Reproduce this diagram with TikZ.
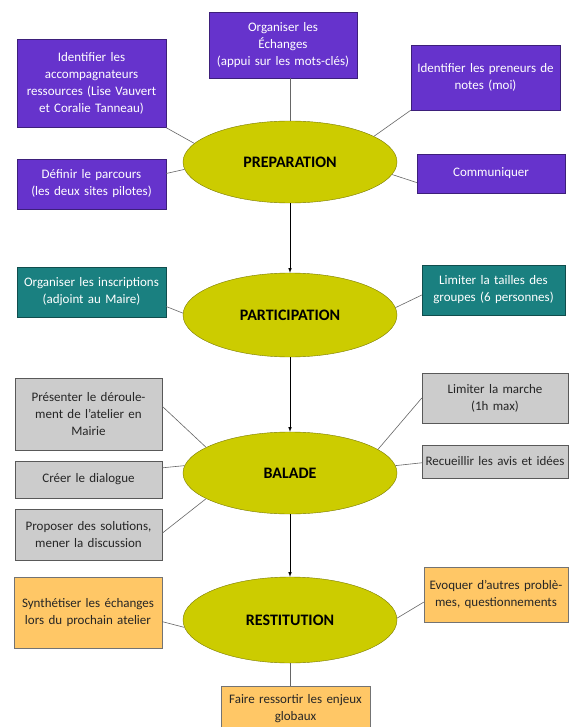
\documentclass[tikz,border=0pt]{standalone}
\usepackage{fontspec}
\setmainfont{Carlito}
\usepackage{tikz}
\usetikzlibrary{shapes}
\definecolor{prepcol}{HTML}{6633CC}
\definecolor{partcol}{HTML}{1A8080}
\definecolor{balcol}{HTML}{CCCCCC}
\definecolor{restcol}{HTML}{FFC766}
\definecolor{phasecol}{HTML}{CCCC00}
\tikzset{my box/.style={
  draw=black!65,
  rectangle,
  align=center,
  inner sep=1pt,
  font=\fontsize{13}{17}\selectfont
  }
}
\tikzset{prep box/.style={my box, fill=prepcol, draw=prepcol!60!black, text=white}}
\tikzset{part box/.style={my box, fill=partcol, draw=partcol!60!black, text=white}}
\tikzset{bal box/.style={my box, fill=balcol, text=black!85}}
\tikzset{rest box/.style={my box, fill=restcol, draw=black!55, text=black!85}}
\tikzset{my phase/.style={
  ellipse,
  draw=phasecol!60!black,
  fill=phasecol,
  minimum width=214pt,
  minimum height=82pt,
  inner sep=0pt,
  font=\fontsize{16}{18}\selectfont\bfseries
  }
}
\tikzset{my link/.style={black!60, line width=0.6pt}}
\tikzset{my arrow/.style={black, line width=0.6pt, -latex}}

\begin{document}
\begin{tikzpicture}[x=1pt,y=-1pt]
    \useasboundingbox[fill=white] (0,0) rectangle (568,727);

    % phases
    \node[my phase] at (290,162) (prep) {PREPARATION};
    \node[my phase, minimum height=84pt] at (290,315) (part) {PARTICIPATION};
    \node[my phase] at (290,473) (bal) {BALADE};
    \node[my phase, minimum height=86pt] at (290,620) (rest) {RESTITUTION};

    % preparation
    \node[prep box, text width=146pt, minimum height=66pt] at (283,45) (echanges) {Organiser les\\Échanges\\(appui sur les mots-clés)};
    \node[prep box, text width=147pt, minimum height=88pt] at (91.5,83.5) (accomp) {Identifier les\\accompagnateurs\\ressources (Lise Vauvert\\et Coralie Tanneau)};
    \node[prep box, text width=147pt, minimum height=65pt] at (485.5,77.5) (preneurs) {Identifier les preneurs de\\notes (moi)};
    \node[prep box, text width=147pt, minimum height=50pt] at (91.5,184) (parcours) {Définir le parcours\\(les deux sites pilotes)};
    \node[prep box, text width=146pt, minimum height=39pt] at (491,173.5) (communiquer) {Communiquer};

    % participation
    \node[part box, text width=147pt, minimum height=50pt] at (91.5,292) (inscriptions) {Organiser les inscriptions\\(adjoint au Maire)};
    \node[part box, text width=141pt, minimum height=50pt] at (493.5,290) (groupes) {Limiter la tailles des\\groupes (6 personnes)};

    % balade
    \node[bal box, text width=145pt, minimum height=72pt] at (88.5,414) (deroulement) {Présenter le déroule-\\ment de l'atelier en\\Mairie};
    \node[bal box, text width=145pt, minimum height=37pt] at (88.5,479.5) (dialogue) {Créer le dialogue};
    \node[bal box, text width=145pt, minimum height=51pt] at (88.5,534.5) (solutions) {Proposer des solutions,\\mener la discussion};
    \node[bal box, text width=144pt, minimum height=50pt] at (495,398) (marche) {Limiter la marche\\(1h max)};
    \node[bal box, text width=144pt, minimum height=33pt] at (495,461.5) (avis) {Recueillir les avis et idées};

    % restitution
    \node[rest box, text width=146pt, minimum height=71pt] at (88,612.5) (synth) {Synthétiser les échanges\\lors du prochain atelier};
    \node[rest box, text width=142pt, minimum height=55pt] at (496,594.5) (evoquer) {Evoquer d'autres problè-\\mes, questionnements};
    \node[rest box, text width=147pt, minimum height=44pt, anchor=north] at (295.5,686) (enjeux) {Faire ressortir les enjeux\\globaux};

    % links to the phases
    \draw[my link] (accomp.south east) -- (prep.169);
    \draw[my link] (echanges.south -| prep.north) -- (prep.north);
    \draw[my link] (preneurs.south west) -- (prep.17);
    \draw[my link] (parcours.8) -- (prep.184);
    \draw[my link] (communiquer.187) -- (prep.353);

    \draw[my link] (inscriptions.349) -- (part.179);
    \draw[my link] (groupes.184) -- (part.4);

    \draw[my link] (deroulement.6) -- (bal.163);
    \draw[my link] (dialogue.9) -- (bal.176);
    \draw[my link] (solutions.1) -- (bal.197);
    \draw[my link] (marche.west) -- (bal.15);
    \draw[my link] (avis.181) -- (bal.4);

    \draw[my link] (synth.353) -- (rest.184);
    \draw[my link] (evoquer.186) -- (rest.1);
    \draw[my link] (rest.south) -- (rest.south |- enjeux.north);

    % flow
    \draw[my arrow] (prep.south) -- (part.north);
    \draw[my arrow] (part.south) -- (bal.north);
    \draw[my arrow] (bal.south) -- (rest.north);

\end{tikzpicture}
\end{document}
